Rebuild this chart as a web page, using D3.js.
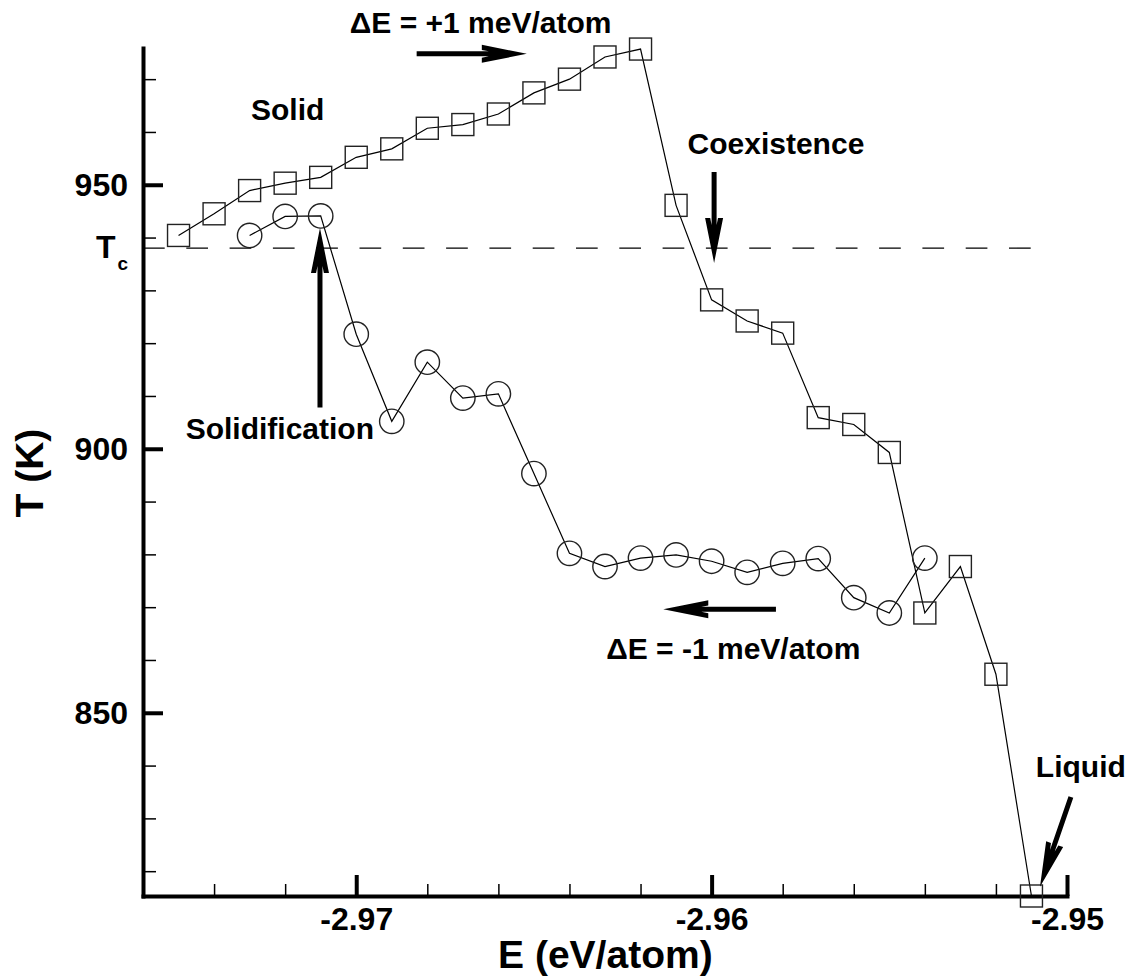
<!DOCTYPE html>
<html>
<head>
<meta charset="utf-8">
<script src="https://cdn.jsdelivr.net/npm/d3@7"></script>
<style>
  body { margin: 0; background: #fff; }
  text { font-family: "Liberation Sans", Arial, sans-serif; font-weight: bold; fill: #000; }
</style>
</head>
<body>
<script>
// heating run (dE = +1 meV/atom), squares
const heatE = [-2.975, -2.974, -2.973, -2.972, -2.971, -2.970, -2.969, -2.968, -2.967, -2.966,
               -2.965, -2.964, -2.963, -2.962, -2.961, -2.960, -2.959, -2.958, -2.957, -2.956,
               -2.955, -2.954, -2.953, -2.952, -2.951];
const heatT = [940.4, 944.5, 948.9, 950.3, 951.4, 955.2, 956.8, 960.7, 961.4, 963.4,
               967.4, 970.0, 974.2, 975.7, 946.1, 928.2, 924.2, 921.9, 905.9, 904.6,
               899.3, 868.9, 877.7, 857.3, 815.3];

// cooling run (dE = -1 meV/atom), circles
const coolE = [-2.973, -2.972, -2.971, -2.970, -2.969, -2.968, -2.967, -2.966, -2.965, -2.964,
               -2.963, -2.962, -2.961, -2.960, -2.959, -2.958, -2.957, -2.956, -2.955, -2.954];
const coolT = [940.4, 944.0, 944.1, 921.7, 905.2, 916.4, 909.6, 910.4, 895.3, 880.2,
               877.7, 879.3, 879.9, 878.7, 876.6, 878.3, 879.2, 871.8, 868.9, 879.3];

const Tc = 938;
const xMajor = [-2.97, -2.96, -2.95];
const xMinor = [-2.974, -2.972, -2.968, -2.966, -2.964, -2.962, -2.958, -2.956, -2.954, -2.952];
const yMajor = [850, 900, 950];
const yMinor = [820, 830, 840, 860, 870, 880, 890, 910, 920, 930, 940, 960, 970];

const W = 1128, H = 979;
const svg = d3.select("body").append("svg").attr("width", W).attr("height", H);

const x = d3.scaleLinear().domain([-2.976, -2.95]).range([143, 1067]);
const y = d3.scaleLinear().domain([815.3, 975.9]).range([896, 48]);

// Tc dashed line
svg.append("line")
  .attr("x1", x(-2.976)).attr("x2", x(-2.9507))
  .attr("y1", y(Tc)).attr("y2", y(Tc))
  .attr("stroke", "#000").attr("stroke-width", 1.3)
  .attr("stroke-dasharray", "21.7,21.6");

// minor ticks
svg.append("g").attr("transform", `translate(${x.range()[0]},0)`)
  .call(d3.axisLeft(y).tickValues(yMinor).tickSize(-13).tickFormat(""))
  .call(g => g.select(".domain").remove())
  .call(g => g.selectAll("line").attr("stroke-width", 1.5));
svg.append("g").attr("transform", `translate(0,${y.range()[0]})`)
  .call(d3.axisBottom(x).tickValues(xMinor).tickSize(-12).tickFormat(""))
  .call(g => g.select(".domain").remove())
  .call(g => g.selectAll("line").attr("stroke-width", 1.5));

// major axes
const yAxis = svg.append("g").attr("transform", `translate(${x.range()[0]},0)`)
  .call(d3.axisLeft(y).tickValues(yMajor).tickSize(-20).tickSizeOuter(0).tickPadding(15).tickFormat(d => d.toFixed(0)));
const xAxis = svg.append("g").attr("transform", `translate(0,${y.range()[0]})`)
  .call(d3.axisBottom(x).tickValues(xMajor).tickSize(-21).tickSizeOuter(0).tickPadding(11).tickFormat(d => d.toFixed(2)));
[yAxis, xAxis].forEach(g => {
  g.select(".domain").attr("stroke-width", 4).attr("stroke-linecap", "square");
  g.selectAll(".tick line").attr("stroke-width", 4);
  g.selectAll("text").style("font-size", "32px").style("font-family", "'Liberation Sans', Arial, sans-serif").style("font-weight", "bold");
});

// Tc label
const tcLab = svg.append("text").attr("x", 128).attr("y", y(Tc) + 10).attr("text-anchor", "end");
tcLab.append("tspan").style("font-size", "32px").text("T");
tcLab.append("tspan").style("font-size", "19px").attr("dx", 2).attr("dy", 12).text("c");

// axis titles
svg.append("text").attr("x", x(-2.96299)).attr("y", 968).attr("text-anchor", "middle")
  .style("font-size", "39px").text("E (eV/atom)");
svg.append("text").attr("transform", `translate(43,${y(895.4)}) rotate(-90)`).attr("text-anchor", "middle")
  .style("font-size", "39px").text("T (K)");

// series lines
const line = d3.line().x(d => x(d[0])).y(d => y(d[1]));
const heat = d3.zip(heatE, heatT), cool = d3.zip(coolE, coolT);
svg.append("path").datum(heat).attr("d", line).attr("fill", "none").attr("stroke", "#000").attr("stroke-width", 1.2);
svg.append("path").datum(cool).attr("d", line).attr("fill", "none").attr("stroke", "#000").attr("stroke-width", 1.2);

// markers
const sq = 22;
svg.append("g").selectAll("rect").data(heat).join("rect")
  .attr("x", d => x(d[0]) - sq / 2).attr("y", d => y(d[1]) - sq / 2)
  .attr("width", sq).attr("height", sq)
  .attr("fill", "none").attr("stroke", "#222").attr("stroke-width", 1.4);
svg.append("g").selectAll("circle").data(cool).join("circle")
  .attr("cx", d => x(d[0])).attr("cy", d => y(d[1])).attr("r", 12.2)
  .attr("fill", "none").attr("stroke", "#222").attr("stroke-width", 1.4);

// arrows: [E0, T0, E1, T1] tail -> tip
const arrows = [
  [-2.9683, 974.8, -2.9652, 974.8],
  [-2.95993, 952.4, -2.95993, 935.2],
  [-2.97102, 907.8, -2.97102, 941.8],
  [-2.95819, 869.6, -2.96136, 869.6],
  [-2.94989, 834.05, -2.95076, 817.06]
];
arrows.forEach(a => {
  const x0 = x(a[0]), y0 = y(a[1]), x1 = x(a[2]), y1 = y(a[3]);
  const len = Math.hypot(x1 - x0, y1 - y0);
  const ang = Math.atan2(y1 - y0, x1 - x0) * 180 / Math.PI;
  // local coords: tip at origin, shaft toward +u
  const hl = 45, hw = 9, sw = 2.5;
  const pts = [[0, 0], [hl, hw], [hl, 3.9], [38, sw], [len, sw], [len, -sw], [38, -sw], [hl, -3.9], [hl, -hw]];
  svg.append("path")
    .attr("d", "M" + pts.map(p => p.join(",")).join("L") + "Z")
    .attr("transform", `translate(${x1},${y1}) rotate(${ang + 180})`)
    .attr("fill", "#000");
});

// annotation labels
const labels = [
  ["\u0394E = +1 meV/atom", -2.9665, 978.7],
  ["Solid", -2.97193, 962.3],
  ["Coexistence", -2.95819, 955.75],
  ["Solidification", -2.97215, 901.9],
  ["\u0394E = -1 meV/atom", -2.95939, 860.1],
  ["Liquid", -2.94961, 837.9]
];
svg.append("g").selectAll("text").data(labels).join("text")
  .attr("x", d => x(d[1])).attr("y", d => y(d[2]))
  .attr("text-anchor", "middle")
  .style("font-size", "30px")
  .text(d => d[0]);
</script>
</body>
</html>
